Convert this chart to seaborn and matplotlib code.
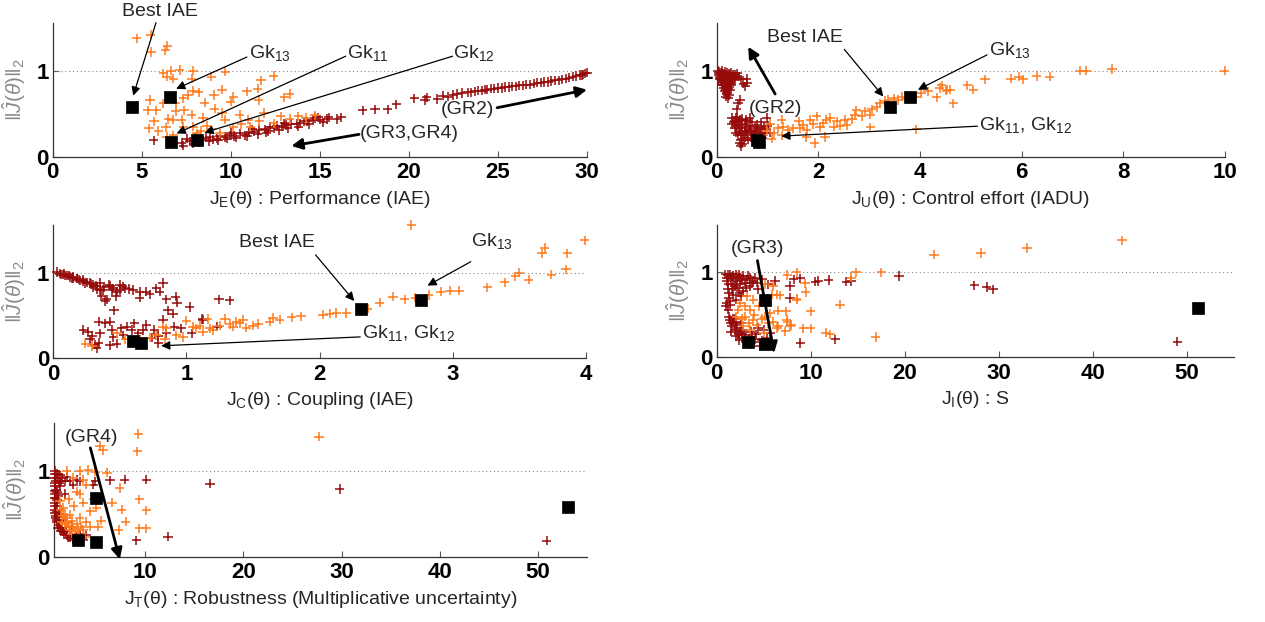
import numpy as np
import pandas as pd
import matplotlib
matplotlib.use("Agg")
import matplotlib.pyplot as plt
import seaborn as sns

# ---------------- DATA ----------------
# Panel 1: J_E (Performance IAE) vs ||J||2
p1_red = [(5.66,0.19),(7.25,0.16),(7.34,0.13),(7.53,0.21),(7.7,0.18),(8.0,0.22),(8.46,0.19),(8.6,0.22),
          (8.84,0.23),(9.0,0.20),(9.21,0.21),(9.4,0.24),(9.68,0.23),(9.96,0.25),(10.2,0.24),(10.5,0.27),
          (10.8,0.25),(11.0,0.28),(11.3,0.29),(11.6,0.31),(11.9,0.32),(12.2,0.35),(12.4,0.33),(12.6,0.36),
          (12.9,0.35),(13.1,0.37),(13.4,0.38),(13.7,0.38),(13.9,0.39),(14.1,0.41),(14.3,0.41),(14.6,0.43),
          (14.7,0.45),(15.0,0.43),(15.4,0.44),(15.5,0.46),(15.95,0.44),(16.2,0.46),(17.4,0.54),(18.1,0.55),
          (18.8,0.55),(19.3,0.61),(20.3,0.68),(20.9,0.66),(21.0,0.69),(21.6,0.67),(21.9,0.71),(22.2,0.70),
          (22.5,0.72),(22.7,0.73),(23.0,0.74),(23.3,0.75),(23.5,0.75),(23.7,0.76),(23.9,0.77),(24.1,0.77),
          (24.25,0.78),(24.4,0.78),(24.6,0.79),(24.8,0.79),(25.0,0.80),(25.2,0.80),(25.4,0.81),(25.6,0.81),
          (25.8,0.82),(26.0,0.82),(26.2,0.83),(26.4,0.83),(26.6,0.84),(26.8,0.84),(27.0,0.85),(27.2,0.86),
          (27.4,0.86),(27.6,0.87),(27.8,0.87),(28.0,0.88),(28.2,0.89),(28.4,0.89),(28.6,0.90),(28.8,0.91),
          (29.0,0.92),(29.2,0.93),(29.4,0.94),(29.6,0.95),(29.7,0.95),(29.8,0.96),(29.9,0.97),(30.0,0.98),
          (7.9,0.15),(8.2,0.17),(8.8,0.18),(9.3,0.19),(9.8,0.21),(10.3,0.22),(10.9,0.24),(11.5,0.26),
          (12.0,0.28),(12.7,0.31),(13.2,0.33),(13.8,0.35),(14.4,0.38),(15.2,0.40),(10.0,0.28),(11.2,0.32),
          (12.1,0.30),(13.0,0.39),(14.9,0.46)]
p1_orange = [(4.72,1.38),(5.51,1.42),(5.52,1.22),(6.44,1.29),(6.33,1.24),(6.22,0.97),(6.65,1.0),(6.44,0.93),
             (6.78,0.91),(7.12,1.01),(7.87,1.0),(7.81,0.91),(8.91,0.93),(9.7,0.99),(11.7,0.89),(12.4,0.94),
             (5.47,0.66),(5.34,0.54),(5.81,0.54),(5.69,0.41),(5.41,0.33),(5.94,0.30),(6.37,0.34),(6.22,0.62),
             (6.9,0.62),(6.9,0.53),(7.38,0.54),(7.34,0.68),(7.62,0.72),(7.9,0.77),(8.2,0.75),(8.54,0.63),
             (9.06,0.72),(9.5,0.78),(10.0,0.64),(10.15,0.70),(10.9,0.76),(11.5,0.79),(11.57,0.66),(11.87,0.51),
             (13.0,0.69),(13.3,0.73),(6.5,0.44),(6.78,0.43),(7.25,0.43),(7.81,0.49),(7.34,0.35),(7.9,0.35),
             (8.43,0.45),(9.1,0.56),(9.5,0.51),(9.68,0.43),(10.5,0.49),(10.99,0.43),(8.1,0.27),(8.65,0.36),
             (9.4,0.27),(10.15,0.34),(11.1,0.35),(11.6,0.41),(12.4,0.39),(12.8,0.47),(13.3,0.44),(13.8,0.47),
             (14.2,0.45),(14.7,0.48),(6.78,0.25),(6.4,0.23),(8.3,0.30),(8.9,0.32),(10.6,0.38)]
p1_sq = [(4.44,0.58),(6.59,0.69),(6.65,0.175),(8.09,0.195)]

# Panel 2: J_U (Control effort IADU)
p2_red = [(0.02,1.0),(0.05,0.99),(0.08,0.98),(0.1,1.0),(0.13,0.97),(0.16,0.99),(0.2,0.98),(0.24,0.97),
          (0.28,0.98),(0.32,0.96),(0.36,0.95),(0.4,0.97),(0.03,0.95),(0.06,0.93),(0.1,0.94),(0.14,0.92),
          (0.18,0.93),(0.22,0.91),(0.26,0.92),(0.3,0.9),(0.34,0.89),(0.05,0.9),(0.09,0.88),(0.12,0.87),
          (0.16,0.86),(0.2,0.87),(0.24,0.85),(0.28,0.83),(0.1,0.83),(0.14,0.8),(0.18,0.81),(0.22,0.79),
          (0.26,0.78),(0.15,0.76),(0.2,0.74),(0.24,0.72),(0.18,0.7),(0.22,0.68),(0.59,0.91),(0.56,0.82),
          (0.6,0.86),(0.46,0.66),(0.39,0.55),(0.42,0.62),(0.3,0.45),(0.35,0.42),(0.4,0.46),(0.45,0.43),
          (0.5,0.44),(0.55,0.38),(0.6,0.41),(0.65,0.36),(0.7,0.4),(0.75,0.34),(0.8,0.37),(0.9,0.32),
          (1.0,0.36),(1.05,0.28),(0.3,0.38),(0.35,0.33),(0.38,0.28),(0.4,0.36),(0.42,0.25),(0.45,0.3),
          (0.47,0.2),(0.5,0.15),(0.52,0.25),(0.55,0.3),(0.5,0.33),(0.6,0.27),(0.62,0.2),(0.67,0.3),
          (0.7,0.25),(0.72,0.2),(0.85,0.27),(0.9,0.22),(0.95,0.28),(0.48,0.12),(0.55,0.22),(0.42,0.4),
          (0.65,0.45),(0.78,0.3),(0.88,0.4),(0.98,0.45),
          (0.04,0.97),(0.07,0.96),(0.11,0.96),(0.15,0.95),(0.19,0.96),(0.23,0.94),(0.27,0.95),(0.31,0.93),
          (0.35,0.92),(0.08,0.91),(0.13,0.90),(0.17,0.89),(0.21,0.89),(0.25,0.88),(0.29,0.86),(0.12,0.84),
          (0.16,0.83),(0.2,0.82),(0.24,0.81),(0.17,0.78),(0.21,0.76),(0.19,0.73),(0.44,0.93),(0.48,0.9),
          (0.52,0.85),(0.33,0.40),(0.37,0.45),(0.44,0.37),(0.48,0.28),(0.53,0.19),(0.57,0.35),(0.63,0.32),
          (0.68,0.22),(0.74,0.28),(0.82,0.33),(0.87,0.24),(0.93,0.35),(0.46,0.16),(0.58,0.43)]
p2_orange = [(1.08,0.21),(1.28,0.43),(1.31,0.35),(1.41,0.31),(1.51,0.33),(1.61,0.41),(1.64,0.33),(1.70,0.37),
             (1.77,0.31),(1.76,0.23),(1.84,0.43),(1.90,0.38),(1.93,0.16),(1.97,0.47),(2.03,0.34),(2.10,0.39),
             (2.13,0.23),(2.16,0.43),(2.23,0.45),(2.30,0.35),(2.36,0.41),(2.43,0.36),(2.52,0.43),(2.56,0.37),
             (2.66,0.44),(2.72,0.49),(2.75,0.54),(2.85,0.47),(2.92,0.53),(3.02,0.49),(3.02,0.34),(3.05,0.55),
             (3.15,0.58),(3.21,0.62),(3.31,0.65),(3.38,0.66),(3.48,0.68),(3.57,0.66),(3.64,0.70),(3.74,0.67),
             (3.93,0.70),(3.93,0.32),(4.03,0.74),(4.16,0.76),(4.33,0.69),(4.39,0.80),(4.52,0.77),(4.59,0.78),
             (1.28,0.25),(0.98,0.30),(1.05,0.38),(1.12,0.27),(1.2,0.33),(4.43,0.83),(4.54,0.78),(4.66,0.62),
             (4.93,0.83),(5.05,0.78),(5.28,0.90),(5.79,0.91),(5.95,0.93),(6.03,0.90),(6.30,0.94),(6.55,0.93),
             (7.15,1.0),(7.27,1.0),(7.78,1.02),(10.0,1.0)]
p2_sq = [(0.80,0.19),(0.83,0.17),(3.41,0.58),(3.80,0.69)]

# Panel 3: J_C (Coupling IAE)
p3_red = [(0.025,1.01),(0.05,0.99),(0.075,0.98),(0.10,0.97),(0.125,0.95),(0.15,0.94),(0.175,0.93),(0.20,0.91),
          (0.225,0.90),(0.25,0.89),(0.275,0.88),(0.30,0.86),(0.325,0.84),(0.35,0.80),(0.36,0.73),(0.39,0.67),
          (0.40,0.69),(0.425,0.85),(0.44,0.80),(0.47,0.73),(0.50,0.86),(0.50,0.80),(0.54,0.82),(0.57,0.81),
          (0.65,0.78),(0.65,0.71),(0.70,0.78),(0.725,0.75),(0.775,0.82),(0.80,0.78),(0.825,0.88),(0.85,0.69),
          (0.86,0.56),(0.90,0.52),(0.92,0.72),(0.93,0.65),(1.025,0.60),(1.245,0.69),(1.325,0.68),(0.455,0.56),
          (1.125,0.45),(0.08,0.99),(0.12,0.97),(0.18,0.93),(0.22,0.92),(0.28,0.87),(0.32,0.85),(0.38,0.83),
          (0.45,0.82),(0.15,0.95),(0.35,0.88),(0.42,0.86),(0.225,0.33),(0.26,0.31),(0.275,0.22),(0.29,0.26),
          (0.31,0.16),(0.325,0.12),(0.34,0.18),(0.35,0.29),(0.34,0.43),(0.39,0.41),(0.425,0.43),(0.44,0.33),
          (0.45,0.25),(0.425,0.15),(0.475,0.17),(0.51,0.35),(0.525,0.27),(0.55,0.37),(0.59,0.33),(0.61,0.41),
          (0.64,0.29),(0.675,0.33),(0.70,0.39),(0.74,0.24),(0.76,0.33),(0.79,0.26),(0.825,0.45),(0.79,0.18),
          (0.85,0.29),(0.91,0.37),(0.96,0.35),(1.04,0.29),(1.12,0.46),(1.23,0.37),
          (0.06,0.98),(0.09,0.965),(0.14,0.94),(0.19,0.92),(0.24,0.88),(0.30,0.83),(0.33,0.81),(0.37,0.80),
          (0.48,0.78),(0.52,0.84),(0.60,0.80)]
p3_orange = [(0.24,0.17),(0.29,0.145),(0.475,0.29),(0.54,0.22),(0.65,0.22),(0.725,0.24),(0.775,0.27),(0.825,0.37),
             (0.84,0.22),(0.85,0.35),(0.925,0.27),(0.975,0.25),(1.0,0.44),(1.05,0.37),(1.075,0.35),(1.10,0.38),
             (1.125,0.31),(1.16,0.46),(1.175,0.35),(1.20,0.33),(1.25,0.38),(1.29,0.46),(1.325,0.40),(1.35,0.37),
             (1.375,0.43),(1.40,0.41),(1.425,0.45),(1.45,0.36),(1.50,0.38),(1.54,0.40),(1.625,0.43),(1.65,0.47),
             (1.70,0.45),(1.79,0.48),(1.86,0.49),(2.025,0.51),(2.075,0.52),(2.125,0.53),(2.20,0.53),(2.36,0.58),
             (2.45,0.65),(2.55,0.72),(2.64,0.69),(2.72,0.71),(2.82,0.74),(2.91,0.78),(2.98,0.79),(3.05,0.79),
             (3.26,0.83),(3.39,0.89),(3.47,0.96),(3.50,1.0),(3.57,0.92),(3.74,0.98),(3.85,1.04),(3.67,1.23),
             (3.69,1.29),(3.86,1.23),(3.99,1.38),(2.69,1.56)]
p3_sq = [(2.31,0.58),(2.76,0.685),(0.60,0.20),(0.66,0.18)]

# Panel 4: J_I (S)
p4_red = [(0.9,0.98),(1.06,0.94),(1.4,0.98),(1.77,0.96),(2.1,0.98),(2.5,0.94),(2.8,0.96),(3.2,0.92),
          (3.5,0.94),(3.9,0.90),(1.24,0.86),(1.6,0.80),(1.95,0.84),(1.77,0.74),(1.42,0.66),(1.06,0.64),
          (1.24,0.56),(2.5,0.86),(2.1,0.68),(2.8,0.78),(3.5,0.84),(4.3,0.88),(4.8,0.92),(4.4,0.80),
          (1.1,0.90),(1.5,0.92),(2.2,0.90),(3.0,0.88),(1.3,0.76),(2.4,0.76),(1.42,0.44),(1.77,0.46),
          (1.6,0.365),(2.1,0.42),(1.95,0.325),(2.3,0.27),(2.66,0.226),(3.2,0.19),(2.84,0.325),(3.55,0.15),
          (4.1,0.21),(4.6,0.13),(5.3,0.23),(5.7,0.29),(5.0,0.325),(4.4,0.345),(1.5,0.40),(2.0,0.38),
          (2.5,0.30),(3.0,0.26),(3.8,0.24),(5.5,0.86),(6.2,0.90),(7.8,0.84),(7.8,0.70),(8.2,0.92),
          (8.9,0.93),(10.5,0.89),(10.8,0.90),(11.9,0.91),(13.8,0.89),(8.9,0.17),(12.6,0.21),(14.3,0.90),
          (27.4,0.85),(28.7,0.83),(29.4,0.80),(49.0,0.185),(19.4,0.96),
          (1.2,0.97),(1.6,0.95),(2.0,0.93),(2.4,0.97),(2.7,0.91),(3.3,0.96),(3.7,0.87),(4.1,0.94),
          (1.3,0.70),(1.7,0.86),(2.2,0.82),(2.6,0.72),(3.1,0.82),(1.15,0.80),(1.0,0.60),(1.4,0.62),
          (1.3,0.48),(1.7,0.42),(2.2,0.35),(2.7,0.28),(3.4,0.22),(4.0,0.18),(4.8,0.20),(1.5,0.30),
          (2.0,0.25),(2.4,0.20),(3.6,0.30),(4.2,0.27),(1.9,0.45),(2.6,0.40)]
p4_orange = [(23.1,1.21),(28.1,1.23),(33.0,1.29),(43.1,1.38),(17.5,1.0),(14.8,1.0),(14.3,0.94),(13.1,0.62),
             (16.9,0.24),(11.6,0.29),(12.1,0.27),(10.0,0.54),(9.45,0.77),(9.4,0.87),(8.5,1.0),(7.5,0.97),
             (7.4,0.54),(7.5,0.42),(7.95,0.38),(9.2,0.34),(10.0,0.34),(8.5,0.69),(6.7,0.73),(6.5,0.365),
             (6.0,0.42),(2.5,0.64),(3.2,0.72),(3.55,0.56),(3.9,0.68),(3.0,0.48),(3.9,0.44),(2.84,0.37),
             (3.55,0.325),(4.25,0.385),(5.1,0.48),(5.7,0.52),(5.85,0.74),(6.4,0.74),(5.1,0.86),(6.0,0.84),
             (5.0,0.29),(6.4,0.345),(7.3,0.305),(7.45,0.44),(7.8,0.365),(8.5,0.68),(2.3,0.56),(2.1,0.48),
             (3.0,0.60),(4.5,0.60),(4.8,0.45),(3.4,0.40),(4.0,0.50),(2.7,0.45),(5.5,0.40),(6.5,0.55)]
p4_sq = [(5.14,0.68),(3.3,0.175),(5.14,0.155),(51.2,0.585)]

# Panel 5: J_T (Robustness)
p5_red = [(0.8,1.0),(0.8,0.92),(0.8,0.82),(0.8,0.73),(0.8,0.63),(0.8,0.55),(0.9,0.47),(0.97,0.43),
          (1.14,0.37),(1.3,0.33),(1.65,0.29),(2.0,0.25),(2.3,0.23),(2.67,0.215),(3.2,0.196),(3.7,0.19),
          (1.14,0.96),(1.5,0.92),(1.8,0.88),(1.3,0.82),(1.14,0.71),(2.3,0.88),(2.67,0.84),(3.0,0.90),
          (3.3,0.88),(4.9,0.88),(4.7,0.84),(6.4,0.89),(7.9,0.90),(10.1,0.90),(16.6,0.85),(12.3,0.235),
          (9.1,0.19),(0.9,0.78),(1.04,0.59),(1.8,0.73),(1.65,0.43),(2.5,0.35),(3.3,0.27),(4.0,0.25),
          (0.85,0.88),(0.85,0.68),(0.95,0.52),(1.2,0.40),(1.5,0.34),(1.9,0.30),(2.4,0.27),(2.9,0.23),
          (1.0,0.97),(1.2,0.86),(29.8,0.79),(50.9,0.185),
          (0.75,0.96),(0.75,0.86),(0.75,0.77),(0.75,0.68),(0.75,0.59),(0.78,0.51),(0.85,0.45),(1.0,0.40),
          (1.1,0.34),(1.4,0.30),(1.7,0.27),(2.1,0.22),(2.6,0.20),(3.0,0.18),(1.0,0.92),(1.4,0.88),
          (1.0,0.76),(1.0,0.66),(1.25,0.50),(1.6,0.46),(2.0,0.40),(1.35,0.95),(2.0,0.93)]
p5_orange = [(9.3,1.43),(9.2,1.23),(5.4,1.29),(5.7,1.24),(2.0,1.0),(3.3,1.0),(4.2,1.01),(4.9,0.99),
             (6.1,0.98),(2.67,0.92),(3.7,0.90),(4.0,0.84),(3.0,0.76),(3.3,0.73),(2.2,0.67),(2.7,0.59),
             (3.7,0.63),(4.4,0.53),(5.0,0.57),(6.6,0.63),(7.6,0.55),(9.4,0.67),(10.1,0.54),(8.0,0.41),
             (7.3,0.31),(9.4,0.33),(10.1,0.33),(5.2,0.35),(5.5,0.42),(4.0,0.41),(3.3,0.45),(2.3,0.49),
             (1.65,0.57),(1.8,0.49),(1.3,0.65),(2.67,0.35),(3.7,0.31),(4.4,0.35),(3.2,0.25),(3.85,0.235),
             (2.3,0.31),(2.0,0.39),(1.5,0.41),(4.7,0.67),(7.4,0.80),(27.7,1.40),
             (1.4,0.55),(1.6,0.48),(2.0,0.45),(2.5,0.42),(3.0,0.38),(3.5,0.35),(2.2,0.36),(2.8,0.30),
             (1.8,0.38),(2.5,0.27),(3.1,0.32)]
p5_sq = [(5.0,0.69),(3.1,0.196),(5.0,0.17),(53.1,0.585)]

# ---------------- STYLE ----------------
sns.set_theme(style="ticks")
plt.rcParams["font.family"] = ["Liberation Sans", "DejaVu Sans"]
plt.rcParams["mathtext.fontset"] = "custom"
plt.rcParams["mathtext.rm"] = "Liberation Sans"
plt.rcParams["mathtext.it"] = "Liberation Sans:italic"
plt.rcParams["mathtext.bf"] = "Liberation Sans:bold"

RED = "#960a0a"
ORANGE = "#ff7b1c"
GREY = "#8a8a8a"

fig = plt.figure(figsize=(12.65, 6.22), dpi=100)

def make_ax(rect, red, orange, sq, xlim, xticks, xlabel):
    ax = fig.add_axes(rect)
    df = pd.DataFrame(red + orange, columns=["x", "y"])
    df["grp"] = ["dom"] * len(red) + ["sel"] * len(orange)
    sns.scatterplot(data=df, x="x", y="y", hue="grp", palette={"dom": RED, "sel": ORANGE},
                    marker="+", s=45, linewidth=1.1, legend=False, ax=ax, zorder=3, clip_on=False)
    sq_df = pd.DataFrame(sq, columns=["x", "y"])
    sns.scatterplot(data=sq_df, x="x", y="y", marker="s", color="black", s=75,
                    edgecolor="black", linewidth=0.5, legend=False, ax=ax, zorder=4, clip_on=False)
    ax.axhline(1.0, color=GREY, ls=(0, (1, 2.5)), lw=0.8, zorder=1)
    ax.set_xlim(*xlim)
    ax.set_ylim(0, 1.56)
    ax.set_xticks(xticks)
    ax.set_yticks([0, 1])
    ax.set_yticklabels(["0", "1"])
    ax.set_xticklabels([str(t) for t in xticks])
    for lab in ax.get_xticklabels() + ax.get_yticklabels():
        lab.set_fontweight("bold")
        lab.set_fontsize(16)
        lab.set_color("black")
    ax.tick_params(axis="both", direction="in", length=4, width=0.8, color="#555555", pad=4)
    ax.tick_params(axis="y", pad=3)
    for s in ["top", "right"]:
        ax.spines[s].set_visible(False)
    for s in ["left", "bottom"]:
        ax.spines[s].set_color("#333333")
        ax.spines[s].set_linewidth(0.9)
    ax.set_xlabel(xlabel, fontsize=14, labelpad=4)
    ax.set_ylabel(r"$\|\hat{J}(\theta)\|_2$", fontsize=15, color=GREY, labelpad=6)
    return ax

def thin(ax, tail, tip):
    ax.annotate("", xy=tip, xytext=tail, annotation_clip=False,
                arrowprops=dict(arrowstyle="-|>", color="black", lw=0.9, mutation_scale=13,
                                shrinkA=0, shrinkB=0))

def thick(ax, tail, tip):
    ax.annotate("", xy=tip, xytext=tail, annotation_clip=False,
                arrowprops=dict(arrowstyle="-|>", color="black", lw=2.0, mutation_scale=16,
                                shrinkA=0, shrinkB=0))

def txt(ax, x, y, s, ha="left"):
    ax.text(x, y, s, fontsize=14, ha=ha, va="center", clip_on=False, zorder=5)

# Panel 1
ax1 = make_ax([0.04166, 0.7481, 0.4224, 0.2154], p1_red, p1_orange, p1_sq, (0, 30),
              [0, 5, 10, 15, 20, 25, 30], r"J$_\mathregular{E}$(θ) : Performance (IAE)")
txt(ax1, 6.0, 1.69, "Best IAE", ha="center")
thin(ax1, (5.8, 1.56), (4.52, 0.71))
txt(ax1, 11.0, 1.21, r"Gk$_{13}$")
thin(ax1, (10.9, 1.16), (6.93, 0.79))
txt(ax1, 16.5, 1.21, r"Gk$_{11}$")
thin(ax1, (16.45, 1.17), (6.96, 0.27))
txt(ax1, 22.5, 1.21, r"Gk$_{12}$")
thin(ax1, (22.45, 1.17), (8.52, 0.28))
txt(ax1, 23.3, 0.555, "(GR2)", ha="center")
thick(ax1, (24.95, 0.57), (30.0, 0.78))
txt(ax1, 20.0, 0.275, "(GR3,GR4)", ha="center")
thick(ax1, (17.2, 0.26), (13.4, 0.125))

# Panel 2
ax2 = make_ax([0.5666, 0.7481, 0.4016, 0.2154], p2_red, p2_orange, p2_sq, (0, 10),
              [0, 2, 4, 6, 8, 10], r"J$_\mathregular{U}$(θ) : Control effort (IADU)")
txt(ax2, 1.74, 1.385, "Best IAE", ha="center")
thin(ax2, (2.51, 1.25), (3.28, 0.70))
txt(ax2, 5.36, 1.24, r"Gk$_{13}$")
thin(ax2, (5.32, 1.185), (3.96, 0.78))
txt(ax2, 5.17, 0.37, r"Gk$_{11}$, Gk$_{12}$")
thin(ax2, (5.13, 0.355), (1.27, 0.24))
txt(ax2, 1.16, 0.565, "(GR2)", ha="center")
thick(ax2, (1.15, 0.73), (0.62, 1.28))

# Panel 3
ax3 = make_ax([0.0421, 0.4240, 0.4211, 0.2143], p3_red, p3_orange, p3_sq, (0, 4),
              [0, 1, 2, 3, 4], r"J$_\mathregular{C}$(θ) : Coupling (IAE)")
txt(ax3, 1.68, 1.35, "Best IAE", ha="center")
thin(ax3, (1.97, 1.21), (2.26, 0.67))
txt(ax3, 3.14, 1.37, r"Gk$_{13}$")
thin(ax3, (3.135, 1.13), (2.81, 0.85))
txt(ax3, 2.32, 0.29, r"Gk$_{11}$, Gk$_{12}$")
thin(ax3, (2.305, 0.25), (0.81, 0.146))

# Panel 4
ax4 = make_ax([0.5666, 0.4256, 0.4087, 0.2127], p4_red, p4_orange, p4_sq, (0, 55),
              [0, 10, 20, 30, 40, 50], r"J$_\mathregular{I}$(θ) : S")
txt(ax4, 4.34, 1.28, "(GR3)", ha="center")
thick(ax4, (4.33, 1.14), (6.1, 0.05))

# Panel 5
ax5 = make_ax([0.0427, 0.1050, 0.4213, 0.2150], p5_red, p5_orange, p5_sq, (0.7, 55),
              [10, 20, 30, 40, 50], r"J$_\mathregular{T}$(θ) : Robustness (Multiplicative uncertainty)")
txt(ax5, 4.5, 1.39, "(GR4)", ha="center")
thick(ax5, (4.4, 1.27), (7.4, -0.03))

fig.savefig("out.png", dpi=100)
